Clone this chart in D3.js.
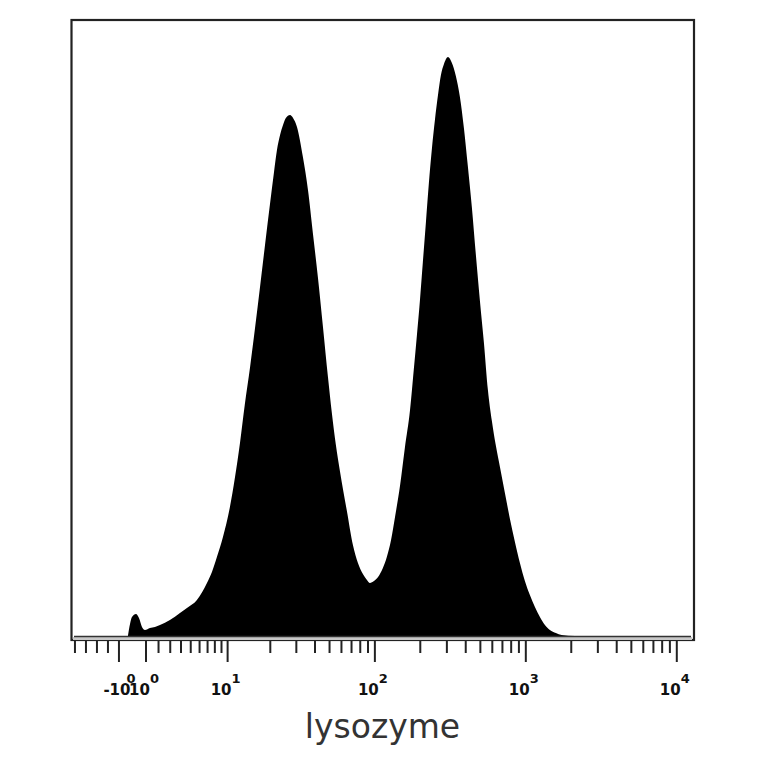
<!DOCTYPE html>
<html><head><meta charset="utf-8">
<script src="https://cdn.jsdelivr.net/npm/d3@7"></script>
<style>html,body{margin:0;padding:0;background:#fff}</style>
</head><body>
<svg id="c" width="764" height="764"></svg>
<script>
// Fluorescence intensity (lysozyme channel) and event counts per bin
const intensity = [
  -3.6, -2.1, -0.7, 0.23, 0.46, 0.69, 0.92, 1.31, 1.71, 2.12,
  2.97, 3.90, 4.60, 5.69, 6.92, 7.59, 8.30, 9.23, 10.4, 11.3,
  12.3, 13.3, 14.5, 15.7, 17.0, 18.4, 19.9, 21.2, 22.2, 23.3,
  24.4, 25.5, 27.2, 28.5, 30.3, 33.2, 35.9, 38.7, 41.8, 45.2,
  48.8, 51.8, 55.1, 58.6, 65.2, 71.5, 77.2, 83.3, 88.6, 92.7,
  98.6, 105, 113, 120, 128, 136, 147, 158, 171, 181,
  190, 199, 208, 218, 228, 239, 250, 262, 274, 287,
  305, 324, 344, 366, 389, 413, 439, 467, 496, 528,
  561, 596, 634, 674, 727, 785, 847, 914, 986, 1064,
  1149, 1240, 1338, 1444, 1582, 1725, 2113];
const counts = [
  0, 12, 19, 22, 18, 9, 6, 8, 9, 11,
  16, 23, 28, 36, 53, 64, 79, 99, 129, 158,
  193, 231, 269, 308, 349, 391, 432, 464, 486, 501,
  511, 518, 521, 518, 509, 479, 446, 403, 359, 309,
  259, 223, 191, 165, 125, 91, 73, 62, 56, 53,
  55, 59, 68, 79, 96, 119, 151, 188, 226, 266,
  301, 336, 374, 414, 453, 488, 516, 541, 561, 572,
  579, 573, 560, 539, 508, 470, 429, 381, 336, 293,
  246, 215, 190, 169, 143, 117, 94, 73, 55, 41,
  29, 19, 11, 6, 3, 1, 0];

const majorTicks = [-10, 1, 10, 100, 1000, 10000];
const minorTicks = [-50,-40,-30,-20, 2,3,4,5,6,7,8,9, 20,30,40,50,60,70,80,90, 200,300,400,500,600,700,800,900, 2000,3000,4000,5000,6000,7000,8000,9000];
const tickLabels = [
  {value:-10, base:"-10", sup:""},
  {value:0, base:"", sup:"0"},
  {value:1, base:"10", sup:"0"},
  {value:10, base:"10", sup:"1"},
  {value:100, base:"10", sup:"2"},
  {value:1000, base:"10", sup:"3"},
  {value:10000, base:"10", sup:"4"}
];
const axisTitle = "lysozyme";
const xDomain = [-53.6, 13000];
const yMaxCount = 616;

// logicle-like transform: arcsinh for positives, compressed linear for negatives
const W = 5;
const k1 = 1.4/151, k2 = 1.1/151;
function T(v){
  if (v >= 0) return Math.asinh(v/W)/Math.LN10;
  if (v >= -10) return v*k1;
  return -10*k1 + (v+10)*k2;
}

const pL = 71, pR = 694, pT = 20, pB = 636;
const xs = d3.scaleLinear().domain([T(xDomain[0]), T(xDomain[1])]).range([pL, pR]);
const X = v => xs(T(v));
const ys = d3.scaleLinear().domain([0, yMaxCount]).range([pB, pT]);

const svg = d3.select("#c");
const data = intensity.map((v,i)=>({v, c:counts[i]}));

// frame
svg.append("rect").attr("x",pL+0.5).attr("y",pT).attr("width",pR-pL-0.5).attr("height",640-pT)
  .attr("fill","#fff").attr("stroke","#222").attr("stroke-width",2.2);

// histogram
svg.append("path").datum(data)
  .attr("d", d3.area().x(d=>X(d.v)).y0(ys(0)).y1(d=>ys(d.c)).curve(d3.curveMonotoneX))
  .attr("fill","#000");

// baseline band
svg.append("rect").attr("x",pL+2).attr("y",pB+1).attr("width",pR-pL-4).attr("height",3).attr("fill","#c8c8c8");
svg.append("line").attr("x1",pL+3).attr("x2",pR-3).attr("y1",pB+0.5).attr("y2",pB+0.5)
  .attr("stroke","#333").attr("stroke-width",1.5);

// ticks
const tg = svg.append("g");
tg.selectAll(".mn").data(minorTicks).join("line")
  .attr("x1",d=>X(d)).attr("x2",d=>X(d)).attr("y1",641).attr("y2",653)
  .attr("stroke","#222").attr("stroke-width",2);
tg.selectAll(".mj").data(majorTicks).join("line")
  .attr("x1",d=>X(d)).attr("x2",d=>X(d)).attr("y1",641).attr("y2",662)
  .attr("stroke","#222").attr("stroke-width",2);

// tick labels
const lg = svg.append("g").attr("font-family","DejaVu Sans").attr("font-weight","bold").attr("fill","#111");
tickLabels.forEach(t=>{
  const tx = lg.append("text").attr("x", X(t.value)-2).attr("y", 695).attr("text-anchor","middle").attr("font-size",15);
  if (t.base) tx.append("tspan").text(t.base);
  if (t.sup) tx.append("tspan").attr("font-size",13).attr("dy", -12).text(t.sup);
});

// axis title
svg.append("text").attr("x", (pL+pR)/2).attr("y", 738).attr("text-anchor","middle")
  .attr("font-family","DejaVu Sans").attr("font-size",33).attr("fill","#333").text(axisTitle);
</script>
</body></html>
